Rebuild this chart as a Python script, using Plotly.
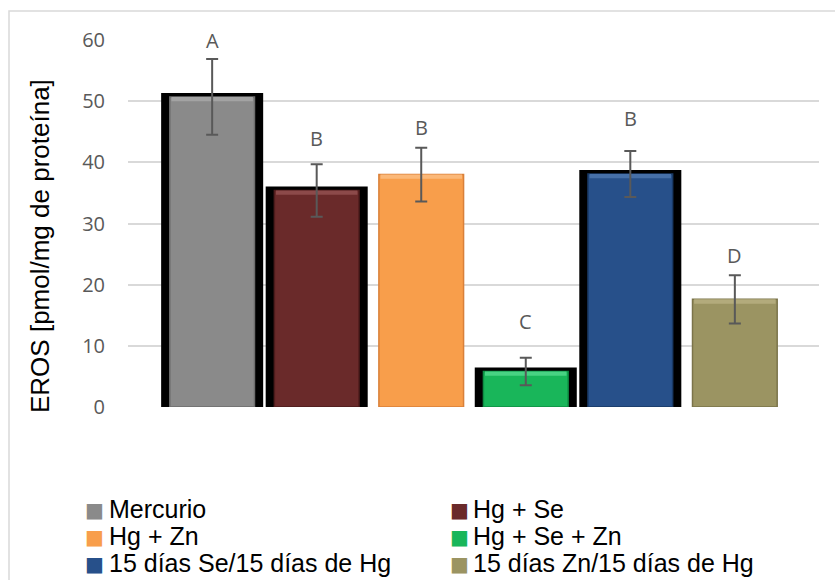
import plotly.graph_objects as go

# Grupos experimentales y valores medios de EROS
groups = ["Mercurio", "Hg + Se", "Hg + Zn", "Hg + Se + Zn",
          "15 días Se/15 días de Hg", "15 días Zn/15 días de Hg"]
eros = [50.7, 35.4, 38.0, 5.8, 38.1, 17.6]
eros_err = [6.2, 4.3, 4.4, 2.25, 3.75, 3.95]
letters = ["A", "B", "B", "C", "B", "D"]
letter_y = [59.9, 43.9, 45.7, 13.9, 47.1, 24.7]
framed = [True, True, False, True, True, False]

bar_colors = ["#8a8a8a", "#6a2a2a", "#f89e4b", "#19b65a", "#27508a", "#9b9462"]
top_colors = ["#a3a3a3", "#8c4a4a", "#fbb878", "#48d283", "#4670a8", "#b3ab7c"]
edge_colors = ["#6e6e6e", "#4e1c1c", "#d9803a", "#0f8f44", "#1a3a66", "#7b744a"]

xs = list(range(len(groups)))
BAR_W = 0.81
BAND = 0.7

# geometría del área de trazado (px)
W, H = 835, 580
L, R, T, B = 128, 16, 40, 173
PW, PH = W - L - R, H - T - B


def px_x(p):
    return (p - L) / PW


def px_y(p):
    return (H - B - p) / PH


fig = go.Figure()

# marco negro detrás de algunas barras
fx = [x for x, f in zip(xs, framed) if f]
fy = [v + 0.65 for v, f in zip(eros, framed) if f]
fig.add_trace(go.Bar(x=fx, y=fy, width=0.976, marker=dict(color="black", line=dict(width=0)),
                     showlegend=False, hoverinfo="skip"))

for i, name in enumerate(groups):
    fig.add_trace(go.Bar(
        x=[xs[i]], y=[eros[i]], name=name, width=BAR_W,
        marker=dict(color=bar_colors[i], line=dict(color=edge_colors[i], width=1.5)),
    ))

# franja clara superior (efecto biselado)
fig.add_trace(go.Bar(
    x=xs, y=[BAND] * len(xs), base=[v - BAND for v in eros], width=BAR_W - 0.03,
    marker=dict(color=top_colors, line=dict(width=0)), showlegend=False, hoverinfo="skip",
))

# barras de error
fig.add_trace(go.Scatter(
    x=xs, y=eros, mode="markers", marker=dict(size=1, opacity=0),
    error_y=dict(type="data", array=eros_err, visible=True, color="#595959",
                 thickness=2, width=6),
    showlegend=False, hoverinfo="skip",
))

for x, ly, t in zip(xs, letter_y, letters):
    fig.add_annotation(x=x, y=ly, text=t, showarrow=False, xref="x", yref="y",
                       font=dict(family="Open Sans", size=20, color="#595959"))

# título del eje Y
fig.add_annotation(x=px_x(40), y=px_y(246), xref="paper", yref="paper",
                   text="EROS [pmol/mg de proteína]", textangle=-90, showarrow=False,
                   xanchor="center", yanchor="middle",
                   font=dict(family="Liberation Sans", size=26, color="black"))

# leyenda en dos columnas
col_marker = [94, 459]
col_text = [107, 471]
row_y = [509, 536, 563]
for i, name in enumerate(groups):
    r, c = divmod(i, 2)
    fig.add_annotation(x=px_x(col_marker[c]), y=px_y(row_y[r] + 1), xref="paper", yref="paper",
                       text="■", showarrow=False, xanchor="center", yanchor="middle",
                       font=dict(family="DejaVu Sans", size=20, color=bar_colors[i]))
    fig.add_annotation(x=px_x(col_text[c]), y=px_y(row_y[r]), xref="paper", yref="paper",
                       text=name, showarrow=False, xanchor="left", yanchor="middle",
                       font=dict(family="Liberation Sans", size=25, color="black"))

# borde del gráfico
fig.add_shape(type="rect", xref="paper", yref="paper", x0=px_x(9), x1=2,
              y0=-2, y1=px_y(11), line=dict(color="#d9d9d9", width=1.5),
              fillcolor="rgba(0,0,0,0)", layer="below")

fig.update_layout(
    width=W, height=H,
    margin=dict(l=L, r=R, t=T, b=B, autoexpand=False),
    barmode="overlay",
    plot_bgcolor="white", paper_bgcolor="white",
    showlegend=False,
    xaxis=dict(range=[-0.805, 5.805], showticklabels=False, showgrid=False,
               zeroline=False, showline=False, fixedrange=True, automargin=False),
    yaxis=dict(range=[0, 60], tickvals=[0, 10, 20, 30, 40, 50, 60],
               showgrid=True, gridcolor="#d9d9d9", gridwidth=1.5,
               zeroline=False, showline=False, ticks="", automargin=False,
               ticklabelstandoff=22,
               tickfont=dict(family="Open Sans", size=20, color="#595959")),
)

fig.write_html("out.html")
